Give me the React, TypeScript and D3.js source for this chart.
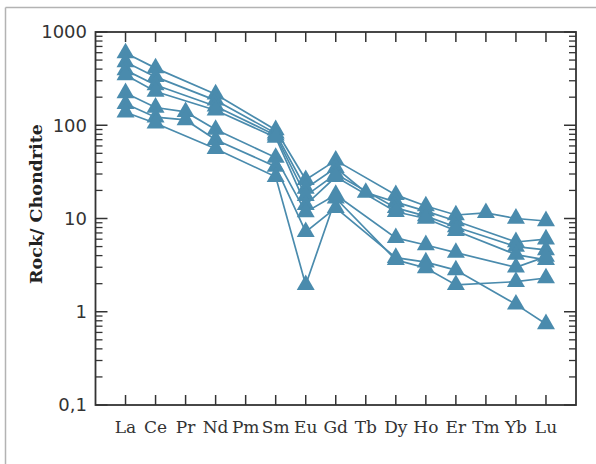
import React from "react";
import * as d3 from "d3";

const categories = ["La", "Ce", "Pr", "Nd", "Pm", "Sm", "Eu", "Gd", "Tb", "Dy", "Ho", "Er", "Tm", "Yb", "Lu"];

// Rock / chondrite normalised values (null = not analysed)
const sampleA = [595, 410, null, 215, null, 89, 26, 42, null, 17.9, 13.6, 10.9, 11.5, 10, 9.4];
const sampleB = [477, 330, null, 185, null, 82, 21, 35, 19, 15, 12, 9.4, null, 5.6, 6.0];
const sampleC = [390, 270, null, 160, null, 78, 17.5, 30, null, 13, 10.6, 8.1, null, 5.0, 4.6];
const sampleD = [346, 230, null, 145, null, 74, 14, 28, null, 11.8, 10.0, 7.4, null, 4.1, 3.6];
const sampleE = [222, 155, 139, 90, null, 45, 11.7, 18, null, 6.2, 5.2, 4.3, null, 3.0, 3.9];
const sampleF = [170, 122, 114, 70, null, 36, 7.2, 13, null, 3.8, 3.4, 2.8, null, 1.2, 0.74];
const sampleG = [138, 105, null, 56, null, 28, 1.94, 16.5, null, 3.6, 2.95, 1.94, null, 2.1, 2.3];

const samples = [sampleA, sampleB, sampleC, sampleD, sampleE, sampleF, sampleG];

const yTickValues = [1000, 100, 10, 1, 0.1];
const yTickLabels = ["1000", "100", "10", "1", "0,1"];

const W = 596;
const H = 464;
const left = 95.5;
const right = 576;
const top = 32;
const bottom = 405;
const color = "#4a8bad";
const ink = "#333";

export default function App() {
  const x = d3.scalePoint<string>().domain(categories).range([left, right]).padding(1);
  const y = d3.scaleLog().domain([0.1, 1000]).range([bottom, top]);

  const line = d3
    .line<{ c: string; v: number }>()
    .x((d) => x(d.c) as number)
    .y((d) => y(d.v));

  const tri = d3.symbol(d3.symbolTriangle, 140)();

  const minor: number[] = [];
  for (let e = -1; e < 3; e++) {
    for (let m = 2; m <= 9; m++) minor.push(m * Math.pow(10, e));
  }

  const pts = samples.map((s) =>
    s.map((v, i) => ({ c: categories[i], v })).filter((d) => d.v != null) as { c: string; v: number }[]
  );

  return (
    <svg width={W} height={H} style={{ position: "absolute", left: 0, top: 0, background: "#fff" }}>
      {/* outer frame lines */}
      <line x1={5.5} x2={W} y1={7.5} y2={7.5} stroke="#b3b3b3" strokeWidth={1.5} />
      <line x1={5.5} x2={5.5} y1={7.5} y2={H} stroke="#b3b3b3" strokeWidth={1.5} />

      {/* data lines */}
      {pts.map((p, i) => (
        <path key={"l" + i} d={line(p) || ""} fill="none" stroke={color} strokeWidth={1.7} />
      ))}
      {/* markers */}
      {pts.map((p, i) =>
        p.map((d, j) => (
          <path key={"m" + i + "-" + j} d={tri || ""} transform={`translate(${x(d.c)},${y(d.v)})`} fill={color} />
        ))
      )}

      {/* axes box */}
      <rect x={left} y={top} width={right - left} height={bottom - top} fill="none" stroke={ink} strokeWidth={1.8} />

      {/* x ticks */}
      {categories.map((c) => (
        <g key={"xt" + c}>
          <line x1={x(c)} x2={x(c)} y1={bottom} y2={bottom - 10} stroke={ink} strokeWidth={1.5} />
          <line x1={x(c)} x2={x(c)} y1={top} y2={top + 10} stroke={ink} strokeWidth={1.5} />
          <text
            x={x(c)}
            y={433}
            textAnchor="middle"
            fontFamily="DejaVu Serif"
            fontSize={17}
            fill={ink}
          >
            {c}
          </text>
        </g>
      ))}

      {/* y ticks */}
      {yTickValues.map((v, i) => (
        <g key={"yt" + v}>
          <line x1={left} x2={left + 12} y1={y(v)} y2={y(v)} stroke={ink} strokeWidth={1.5} />
          <line x1={right} x2={right - 12} y1={y(v)} y2={y(v)} stroke={ink} strokeWidth={1.5} />
          <text
            x={87}
            y={y(v)}
            dy="0.35em"
            textAnchor="end"
            fontFamily="DejaVu Sans"
            fontSize={18}
            fill={ink}
          >
            {yTickLabels[i]}
          </text>
        </g>
      ))}
      {minor.map((v) => (
        <g key={"ym" + v}>
          <line x1={left} x2={left + 7} y1={y(v)} y2={y(v)} stroke={ink} strokeWidth={1.3} />
          <line x1={right} x2={right - 7} y1={y(v)} y2={y(v)} stroke={ink} strokeWidth={1.3} />
        </g>
      ))}

      {/* y title */}
      <text
        transform={`translate(42,204) rotate(-90)`}
        textAnchor="middle"
        fontFamily="DejaVu Serif"
        fontWeight="bold"
        fontSize={17.5}
        fill="#222"
      >
        Rock/ Chondrite
      </text>
    </svg>
  );
}
